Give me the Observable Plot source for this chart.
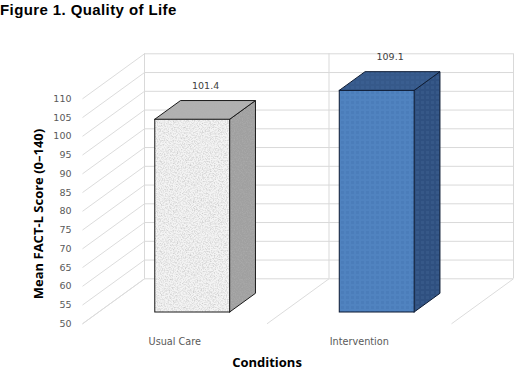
<!DOCTYPE html>
<html><head><meta charset="utf-8">
<script src="https://cdn.jsdelivr.net/npm/d3@7"></script>
<script src="https://cdn.jsdelivr.net/npm/@observablehq/plot@0.6"></script>
<style>
body{margin:0;background:#fff;}
#title{font:bold 15px "Liberation Sans",Arial,sans-serif;letter-spacing:0.4px;height:20px;line-height:20px;white-space:nowrap;color:#000;}
svg{display:block}
</style></head><body>
<div id="title">Figure 1. Quality of Life</div>
<div id="chart"></div>
<script>
// ---- data ----
const categories = ["Usual Care", "Intervention"];
const values = [101.4, 109.1];
const yTicks = [50, 55, 60, 65, 70, 75, 80, 85, 90, 95, 100, 105, 110];
const yTitle = "Mean FACT-L Score (0\u2013140)";
const xTitle = "Conditions";

// ---- styles ----
const frontFill = ["url(#ucFront)", "url(#ivFront)"];
const topFill = ["url(#ucTop)", "url(#ivTop)"];
const sideFill = ["url(#ucSide)", "url(#ivSide)"];
const edge = ["#1a1a1a", "#0d1b33"];

// oblique depth projection (x in category units, y in value units)
const kx = 0.336, ky = 12;
const zFront = 0.749, zBack = 0.333, zMid = (zFront + zBack) / 2;
const bL = -0.19, bR = 0.216;
const y0 = yTicks[0], yTop = yTicks[yTicks.length - 1];
const n = categories.length;

const bars = categories.map((cat, i) => ({cat, i, c: i + 0.5, v: values[i]}));
const sides = bars.flatMap(b => [zFront, zBack].map(z => ({...b, x: b.c + bR - kx * z, y1: y0 - ky * z, y2: b.v - ky * z})));
const tops = bars.flatMap(b => [zFront, zBack].map(z => ({...b, y: b.v - ky * z, x1: b.c + bL - kx * z, x2: b.c + bR - kx * z})));
const walls = d3.range(n + 1);

const font = "'DejaVu Sans', Verdana, sans-serif";
const bold = "'Open Sans', Calibri, sans-serif";

const chart = Plot.plot({
  width: 523,
  height: 357,
  marginLeft: 144,
  marginRight: 10,
  marginTop: 33.3,
  marginBottom: 98.7,
  x: {type: "linear", domain: [0, n], axis: null},
  y: {type: "linear", domain: [y0, yTop], axis: null},
  color: {type: "identity"},
  marks: [
    // back wall grid
    Plot.ruleY(yTicks, {x1: () => 0, x2: () => n, stroke: "#d9d9d9", strokeWidth: 1}),
    Plot.ruleX(walls, {y1: () => y0, y2: () => yTop, stroke: "#d9d9d9", strokeWidth: 1}),
    // side wall diagonals
    Plot.link(yTicks, {x1: () => 0, y1: d => d, x2: () => -kx, y2: d => d - ky, stroke: "#dcdcdc", strokeWidth: 1}),
    // floor diagonals
    Plot.link(walls, {x1: d => d, y1: () => y0, x2: d => d - kx, y2: () => y0 - ky, stroke: "#dcdcdc", strokeWidth: 1}),
    // tick labels
    Plot.text(yTicks, {x: () => -kx, y: d => d - ky, text: d => String(d), textAnchor: "end", dx: -11, fontFamily: font, fontSize: 9.5, fill: "#595959"}),
    // category labels
    Plot.text(bars, {x: b => b.c - kx, y: () => y0 - ky, text: "cat", dy: 18, fontFamily: font, fontSize: 9.7, fill: "#595959"}),
    // bars
    Plot.areaY(sides, {x: "x", y1: "y1", y2: "y2", z: "cat", fill: d => sideFill[d.i], stroke: d => edge[d.i], strokeWidth: 1, curve: "linear"}),
    Plot.areaX(tops, {y: "y", x1: "x1", x2: "x2", z: "cat", fill: d => topFill[d.i], stroke: d => edge[d.i], strokeWidth: 1, curve: "linear"}),
    Plot.rect(bars, {x1: b => b.c + bL - kx * zFront, x2: b => b.c + bR - kx * zFront, y1: () => y0 - ky * zFront, y2: b => b.v - ky * zFront,
      fill: d => frontFill[d.i], stroke: d => edge[d.i], strokeWidth: 1}),
    // value labels
    Plot.text(bars, {x: b => b.c + (bL + bR) / 2 - kx * zMid, y: b => b.v - ky * zBack, text: b => b.v.toFixed(1), dy: -15, fontFamily: font, fontSize: 9.5, fill: "#404040"}),
    // axis titles
    Plot.text([xTitle], {x: () => n / 2 - kx, y: () => y0 - ky, text: d => d, dy: 39, fontFamily: bold, fontWeight: "bold", fontSize: 13, fill: "#000"}),
    Plot.text([yTitle], {frameAnchor: "left", textAnchor: "middle", text: d => d, rotate: -90, dx: -106, dy: 47.7, fontFamily: bold, fontWeight: "bold", fontSize: 13, fill: "#000"})
  ]
});

// surface textures (style only)
const defs = d3.select(chart).insert("defs", ":first-child");
const grain = defs.append("filter").attr("id", "grain").attr("x", 0).attr("y", 0).attr("width", 1).attr("height", 1);
grain.append("feTurbulence").attr("type", "fractalNoise").attr("baseFrequency", 0.75).attr("numOctaves", 3).attr("seed", 7).attr("stitchTiles", "stitch");
grain.append("feColorMatrix").attr("type", "matrix").attr("values", "0 0 0 0 0.45  0 0 0 0 0.45  0 0 0 0 0.45  1.3 0 0 0 -0.52");
function grainPattern(id, base) {
  const p = defs.append("pattern").attr("id", id).attr("patternUnits", "userSpaceOnUse").attr("width", 90).attr("height", 90);
  p.append("rect").attr("width", 90).attr("height", 90).attr("fill", base);
  p.append("rect").attr("width", 90).attr("height", 90).attr("filter", "url(#grain)");
}
grainPattern("ucFront", "#f4f4f4");
grainPattern("ucTop", "#b0b0b0");
grainPattern("ucSide", "#a0a0a0");
function dotPattern(id, base, dot) {
  const p = defs.append("pattern").attr("id", id).attr("patternUnits", "userSpaceOnUse").attr("width", 5).attr("height", 5);
  p.append("rect").attr("width", 5).attr("height", 5).attr("fill", base);
  p.append("rect").attr("x", 1).attr("y", 1).attr("width", 3).attr("height", 3).attr("fill", dot);
}
dotPattern("ivFront", "#5083c0", "#4b7dba");
dotPattern("ivTop", "#36598a", "#3a5e90");
dotPattern("ivSide", "#2f5080", "#365888");

document.getElementById("chart").appendChild(chart);
</script>
</body></html>
